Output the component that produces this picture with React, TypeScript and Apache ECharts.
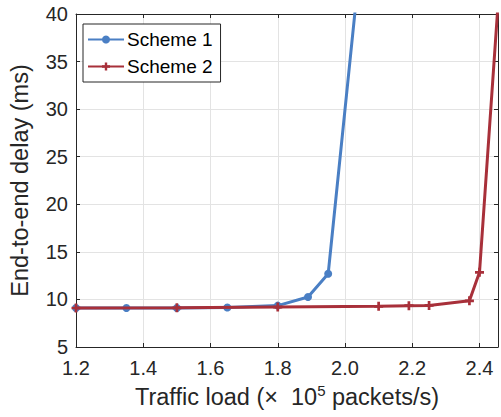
import React, { useEffect, useRef } from "react";
import * as echarts from "echarts";

const scheme1X = [1.2, 1.35, 1.5, 1.65, 1.8, 1.89, 1.95, 2.1];
const scheme1Y = [9.1, 9.1, 9.1, 9.15, 9.35, 10.25, 12.7, 64.5];
const scheme2X = [1.2, 1.5, 1.8, 2.1, 2.19, 2.25, 2.37, 2.4, 2.5];
const scheme2Y = [9.1, 9.12, 9.2, 9.27, 9.34, 9.37, 9.85, 12.85, 64];
const xTicks = [1.2, 1.4, 1.6, 1.8, 2.0, 2.2, 2.4];
const yTicks = [5, 10, 15, 20, 25, 30, 35, 40];

const FONT = "Liberation Sans, Arial, Helvetica, sans-serif";
const AXIS_COLOR = "#262626";
const BLUE = "#4a7fc4";
const RED = "#a8303a";
const PLUS = "path://M3.5,0H6.5V3.5H10V6.5H6.5V10H3.5V6.5H0V3.5H3.5Z";

export default function App() {
  const ref = useRef<HTMLDivElement>(null);
  useEffect(() => {
    if (!ref.current) return;
    const chart = echarts.init(ref.current, undefined, { renderer: "svg" });
    const isTick = (v: number, ticks: number[]) => ticks.some((t) => Math.abs(t - v) < 1e-6);
    const xFmt = (v: number) => (isTick(v, xTicks) ? v.toFixed(1) : "");
    const yFmt = (v: number) => (isTick(v, yTicks) ? String(v) : "");
    const baseX = {
      type: "value" as const,
      min: 1.2,
      max: 2.455,
      interval: 0.2,
      axisLine: { show: true, lineStyle: { color: AXIS_COLOR, width: 1 } },
      axisTick: { show: true, inside: true, length: 4, lineStyle: { color: AXIS_COLOR } },
    };
    const baseY = {
      type: "value" as const,
      min: 5,
      max: 40,
      interval: 5,
      axisLine: { show: true, lineStyle: { color: AXIS_COLOR, width: 1 } },
      axisTick: { show: true, inside: true, length: 4, lineStyle: { color: AXIS_COLOR } },
    };
    chart.setOption({
      animation: false,
      backgroundColor: "#ffffff",
      grid: { left: 73, top: 14, width: 427, height: 333, containLabel: false },
      legend: {
        left: 83,
        top: 24,
        orient: "vertical",
        itemWidth: 36,
        itemHeight: 10,
        itemGap: 8,
        padding: [6, 8, 6, 4],
        backgroundColor: "#ffffff",
        borderColor: AXIS_COLOR,
        borderWidth: 1,
        borderRadius: 0,
        textStyle: { fontFamily: FONT, fontSize: 19, color: "#000", padding: [0, 0, 0, -2] },
        data: [{ name: "Scheme 1" }, { name: "Scheme 2" }],
      },
      xAxis: [
        {
          ...baseX,
          position: "bottom",
          name: "Traffic load (\u00d7  10{sup|5} packets/s)",
          nameLocation: "middle",
          nameGap: 36,
          nameTextStyle: {
            fontFamily: FONT,
            fontSize: 23.5,
            color: AXIS_COLOR,
            rich: {
              sup: { fontFamily: FONT, fontSize: 15, color: AXIS_COLOR, verticalAlign: "top", padding: [0, 0, 12, 0] },
            },
          },
          axisLabel: { formatter: xFmt, fontFamily: FONT, fontSize: 20, color: AXIS_COLOR, margin: 11 },
          splitLine: { show: true, lineStyle: { color: "#e3e3e3", width: 1 } },
        },
        {
          ...baseX,
          position: "top",
          axisLabel: { show: false },
          splitLine: { show: false },
        },
      ],
      yAxis: [
        {
          ...baseY,
          position: "left",
          name: "End-to-end delay (ms)",
          nameLocation: "middle",
          nameGap: 44,
          nameRotate: 90,
          nameTextStyle: { fontFamily: FONT, fontSize: 23.5, color: AXIS_COLOR },
          axisLabel: { formatter: yFmt, fontFamily: FONT, fontSize: 20, color: AXIS_COLOR, margin: 8 },
          splitLine: { show: true, lineStyle: { color: "#e3e3e3", width: 1 } },
        },
        {
          ...baseY,
          position: "right",
          axisLabel: { show: false },
          splitLine: { show: false },
        },
      ],
      series: [
        {
          name: "Scheme 1",
          type: "line",
          data: scheme1X.map((x, i) => [x, scheme1Y[i]]),
          clip: true,
          symbol: "circle",
          symbolSize: 8,
          showAllSymbol: true,
          lineStyle: { color: BLUE, width: 3 },
          itemStyle: { color: BLUE },
          z: 2,
        },
        {
          name: "Scheme 2",
          type: "line",
          data: scheme2X.map((x, i) => [x, scheme2Y[i]]),
          clip: true,
          symbol: PLUS,
          symbolSize: 9,
          showAllSymbol: true,
          lineStyle: { color: RED, width: 3 },
          itemStyle: { color: RED },
          z: 3,
        },
      ],
    });
    return () => chart.dispose();
  }, []);
  return <div ref={ref} style={{ width: 501, height: 417, position: "absolute", left: 0, top: 0 }} />;
}
